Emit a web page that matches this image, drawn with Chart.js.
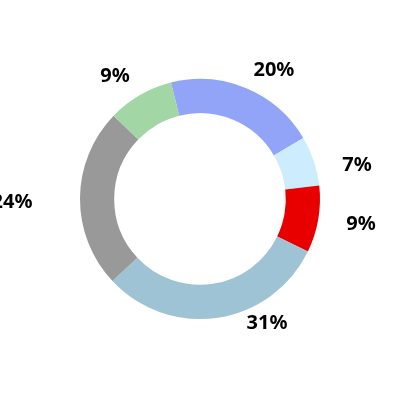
<!DOCTYPE html>
<html lang="en">
  <head>
    <meta charset="UTF-8" />
    <script src="https://cdn.jsdelivr.net/npm/chart.js@4.4.0/dist/chart.umd.min.js"></script>
    <title>doughnut</title>
    <style>
      body {
        margin: 0;
        padding: 0;
        background: #fff;
      }

      .container {
        width: 400px;
        height: 400px;
      }
    </style>
  </head>
  <body>
    <div class="container">
      <canvas id="chart"></canvas>
    </div>
    <script>
      const categories = ['A', 'B', 'C', 'D', 'E', 'F']
      const values = [20.4, 6.7, 9.0, 30.8, 24.2, 8.9]
      const labels = ['20%', '7%', '9%', '31%', '24%', '9%']
      const colors = ['#92a4f7', '#cdecfd', '#e80000', '#9dc3d4', '#999999', '#a2d6a4']

      // labels sit near each slice; small angle nudge (deg) and distance from centre
      const outsideLabels = {
        id: 'outsideLabels',
        afterDatasetsDraw(chart, args, opts) {
          const ctx = chart.ctx
          const meta = chart.getDatasetMeta(0)
          ctx.save()
          ctx.font = opts.font
          ctx.fillStyle = opts.color
          ctx.textAlign = 'center'
          ctx.textBaseline = 'middle'
          meta.data.forEach((arc, i) => {
            const p = arc.getProps(['x', 'y', 'startAngle', 'endAngle'], true)
            const nudge = opts.nudge[i]
            const a = (p.startAngle + p.endAngle) / 2 + (nudge.a * Math.PI) / 180
            ctx.fillText(
              labels[i],
              p.x + Math.cos(a) * nudge.r,
              p.y + Math.sin(a) * nudge.r
            )
          })
          ctx.restore()
        },
      }

      const chart = new Chart(document.getElementById('chart'), {
        type: 'doughnut',
        data: {
          labels: categories,
          datasets: [
            {
              data: values,
              backgroundColor: colors,
              borderWidth: 0,
            },
          ],
        },
        options: {
          responsive: true,
          maintainAspectRatio: false,
          animation: false,
          cutout: '71.5%',
          rotation: -14,
          layout: {
            padding: { top: 79, bottom: 81, left: 80, right: 80 },
          },
          plugins: {
            legend: { display: false },
            tooltip: { enabled: false },
            outsideLabels: {
              font: 'bold 20px "Noto Sans"',
              color: '#000',
              nudge: [
                { a: 7.1, r: 148.7 },
                { a: 6.3, r: 160.6 },
                { a: -0.9, r: 162.9 },
                { a: -19.8, r: 140.9 },
                { a: -1.3, r: 188 },
                { a: -4.6, r: 149.5 },
              ],
            },
          },
        },
        plugins: [outsideLabels],
      })
    </script>
  </body>
</html>
